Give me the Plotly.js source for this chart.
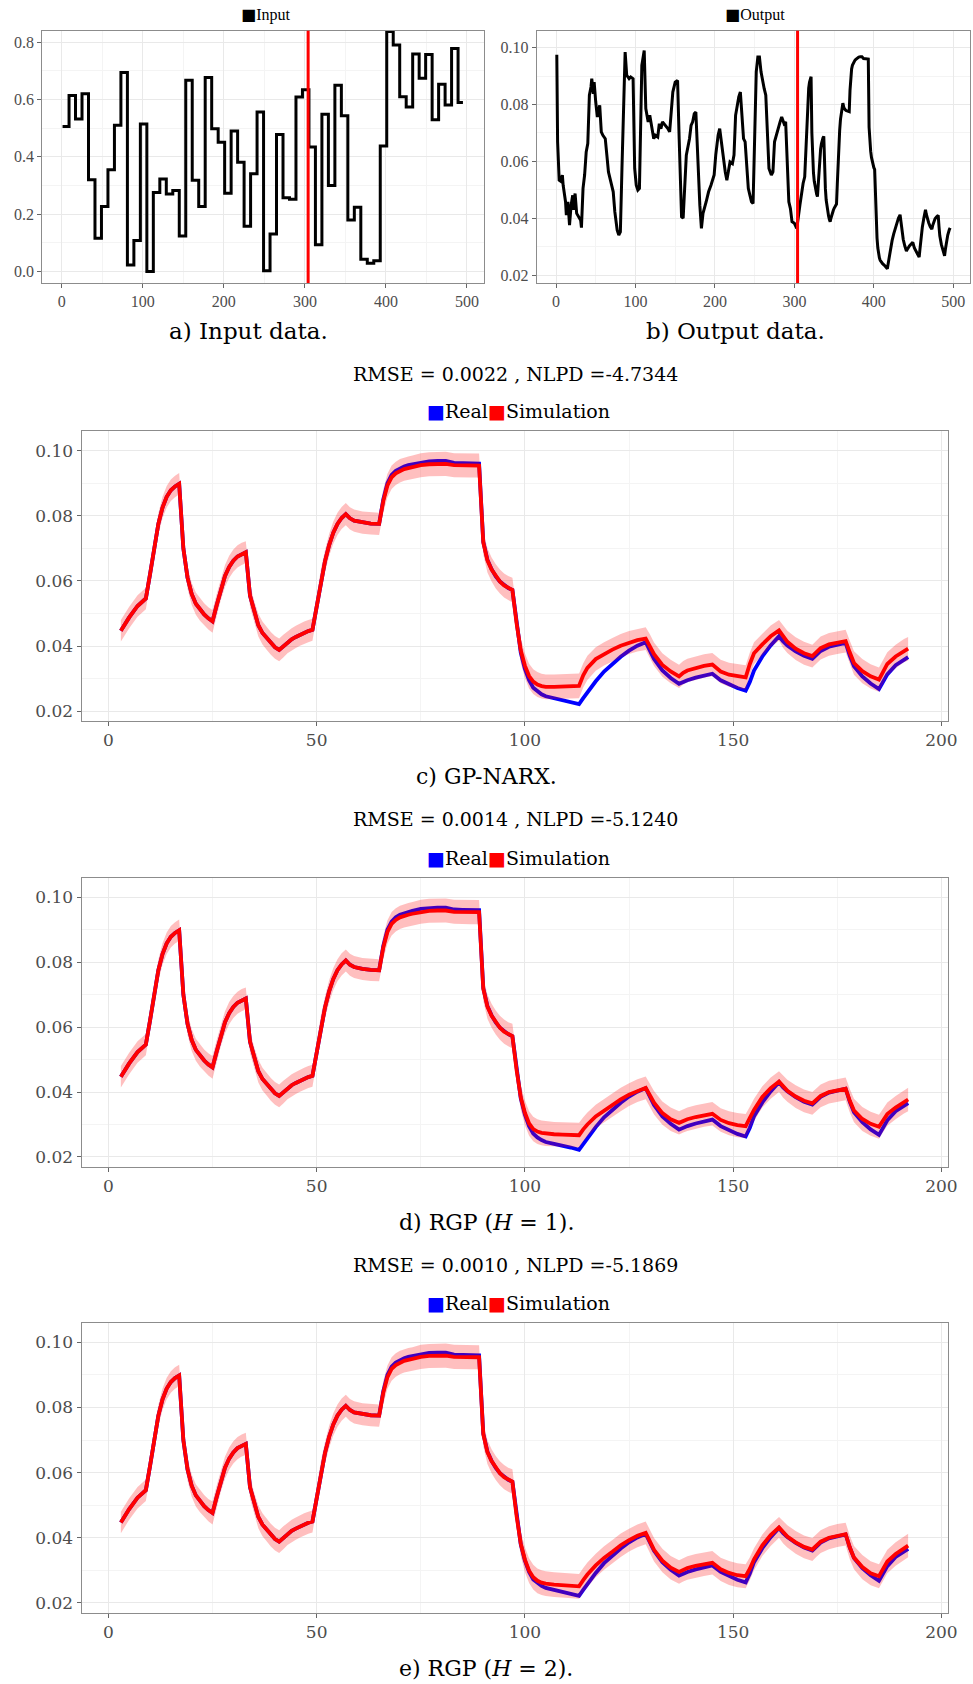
<!DOCTYPE html>
<html>
<head>
<meta charset="utf-8">
<script src="https://cdn.plot.ly/plotly-3.0.1.min.js"></script>
<style>
  html, body { margin: 0; padding: 0; background: #ffffff; }
  #chart { width: 973px; height: 1684px; }
</style>
</head>
<body>
<div id="chart"></div>
<script>
// ---------------- data ----------------
// sample index where the training data ends and the test data begins
const splitIndex = 304;

// piecewise-constant excitation: one level per 8-sample step
const inputStepLength = 8;
const inputLastSample = 495;
const inputLevels = [
  0.506, 0.614, 0.532, 0.620, 0.320, 0.116, 0.227, 0.355, 0.510, 0.694,
  0.023, 0.108, 0.515, 0.000, 0.276, 0.323, 0.270, 0.283, 0.124, 0.667,
  0.318, 0.227, 0.677, 0.498, 0.451, 0.273, 0.490, 0.381, 0.158, 0.341,
  0.556, 0.003, 0.131, 0.478, 0.257, 0.252, 0.609, 0.634, 0.434, 0.093,
  0.549, 0.300, 0.650, 0.543, 0.180, 0.224, 0.043, 0.029, 0.038, 0.438,
  0.837, 0.790, 0.610, 0.574, 0.759, 0.674, 0.757, 0.529, 0.653, 0.581,
  0.778, 0.590
];

// measured output on the training part
const trainT = [
  1, 2, 4, 6, 8, 9, 12, 13, 15, 17,
  19, 21, 22, 24, 26, 29, 31, 32, 34, 36,
  38, 40, 42, 44, 45, 47, 48, 50, 52, 55,
  57, 59, 62, 64, 66, 69, 72, 74, 77, 79,
  81, 83, 85, 87, 89, 92, 94, 97, 99, 101,
  103, 105, 108, 111, 113, 116, 118, 121, 123, 125,
  128, 130, 132, 134, 138, 141, 143, 145, 147, 150,
  153, 155, 157, 158, 160, 162, 164, 168, 170, 172,
  174, 176, 177, 179, 181, 183, 185, 189, 192, 195,
  197, 199, 201, 204, 206, 208, 211, 213, 215, 217,
  219, 222, 224, 226, 228, 230, 232, 234, 236, 238,
  240, 242, 244, 246, 248, 250, 252, 254, 256, 258,
  260, 262, 264, 266, 268, 271, 273, 275, 277, 280,
  282, 284, 287, 289, 291, 293, 295, 297, 300, 303
];
const trainY = [
  0.0975, 0.0669, 0.0534, 0.0530, 0.0552, 0.0516, 0.0458, 0.0411, 0.0458, 0.0376,
  0.0446, 0.0481, 0.0429, 0.0487, 0.0417, 0.0405, 0.0393, 0.0367, 0.0505, 0.0552,
  0.0633, 0.0663, 0.0833, 0.0862, 0.0891, 0.0838, 0.0879, 0.0809, 0.0756, 0.0797,
  0.0704, 0.0692, 0.0680, 0.0622, 0.0563, 0.0528, 0.0493, 0.0423, 0.0358, 0.0341,
  0.0352, 0.0575, 0.0833, 0.0985, 0.0903, 0.0891, 0.0897, 0.0891, 0.0575, 0.0516,
  0.0499, 0.0505, 0.0938, 0.0990, 0.0786, 0.0739, 0.0762, 0.0715, 0.0680, 0.0692,
  0.0686, 0.0733, 0.0715, 0.0739, 0.0727, 0.0715, 0.0704, 0.0774, 0.0844, 0.0879,
  0.0885, 0.0680, 0.0505, 0.0405, 0.0400, 0.0505, 0.0622, 0.0680, 0.0727, 0.0739,
  0.0768, 0.0774, 0.0704, 0.0563, 0.0446, 0.0364, 0.0417, 0.0458, 0.0493, 0.0516,
  0.0534, 0.0552, 0.0622, 0.0692, 0.0715, 0.0669, 0.0598, 0.0563, 0.0534, 0.0563,
  0.0598, 0.0592, 0.0622, 0.0762, 0.0797, 0.0827, 0.0844, 0.0762, 0.0680, 0.0669,
  0.0575, 0.0505, 0.0481, 0.0458, 0.0452, 0.0715, 0.0915, 0.0967, 0.0967, 0.0915,
  0.0879, 0.0856, 0.0833, 0.0715, 0.0575, 0.0552, 0.0563, 0.0669, 0.0692, 0.0727,
  0.0739, 0.0756, 0.0733, 0.0739, 0.0598, 0.0458, 0.0434, 0.0388, 0.0382, 0.0364
];

// test part: sample index inside the test window
const simT = [
  3, 5, 7, 9,
  10, 11, 12, 13, 14, 15, 16, 17,
  18, 19, 20, 21, 22, 23, 24, 25,
  26, 27, 28, 29, 30, 31, 32, 33,
  34, 35, 36, 37, 38, 39, 40, 41,
  42, 43, 44, 45, 46, 47, 48, 49,
  50, 51, 52, 53, 54, 55, 56, 57,
  58, 59, 61, 63, 65,
  66, 67, 68, 69, 70, 71, 72, 73,
  75, 77, 79, 81, 83, 85, 87, 89,
  90, 91, 92, 93, 94, 95, 96, 97,
  98, 99, 100, 101, 102, 103, 104, 105,
  107, 109, 111, 113,
  114, 115,
  117, 119, 121, 123, 125, 127, 129,
  130, 131, 133, 135, 137,
  138, 139, 141, 143, 145,
  147, 149, 151, 153,
  154, 155, 157, 159, 161,
  162, 163, 165, 167, 169,
  170, 171, 173, 175, 177,
  178, 179, 181, 183, 185,
  186, 187, 189, 191, 192
];

// measured ("Real") output on the test window
const realY = [
  0.0447, 0.0488, 0.0523, 0.0546,
  0.0620, 0.0700, 0.0775, 0.0825, 0.0858, 0.0878, 0.0890, 0.0898,
  0.0700, 0.0610, 0.0560, 0.0530, 0.0512, 0.0497, 0.0485, 0.0476,
  0.0525, 0.0575, 0.0615, 0.0643, 0.0662, 0.0675, 0.0683, 0.0688,
  0.0555, 0.0505, 0.0464, 0.0440, 0.0424, 0.0408, 0.0396, 0.0388,
  0.0400, 0.0412, 0.0421, 0.0428, 0.0435, 0.0441, 0.0446, 0.0450,
  0.0520, 0.0600, 0.0660, 0.0710, 0.0748, 0.0775, 0.0793, 0.0805,
  0.0792, 0.0785, 0.0779, 0.0776, 0.0775,
  0.0850, 0.0900, 0.0925, 0.0938, 0.0946, 0.0951, 0.0955, 0.0958,
  0.0964, 0.0967, 0.0968, 0.0968, 0.0962, 0.0961, 0.0961, 0.0960,
  0.0720, 0.0665, 0.0636, 0.0614, 0.0598, 0.0586, 0.0578, 0.0572,
  0.0465, 0.0380, 0.0330, 0.0295, 0.0272, 0.0260, 0.0252, 0.0246,
  0.0240, 0.0235, 0.0229, 0.0222,
  0.0240, 0.0258,
  0.0292, 0.0322, 0.0345, 0.0367, 0.0386, 0.0401, 0.0412,
  0.0385, 0.0360, 0.0325, 0.0302, 0.0284,
  0.0290, 0.0295, 0.0303, 0.0309, 0.0315,
  0.0295, 0.0283, 0.0271, 0.0263,
  0.0290, 0.0325, 0.0368, 0.0402, 0.0430,
  0.0414, 0.0402, 0.0384, 0.0370, 0.0361,
  0.0374, 0.0385, 0.0398, 0.0405, 0.0410,
  0.0370, 0.0338, 0.0307, 0.0285, 0.0268,
  0.0290, 0.0313, 0.0341, 0.0360, 0.0366
];

// simulated mean of each model
const simGpNarx = [
  0.0447, 0.0488, 0.0523, 0.0546,
  0.0620, 0.0700, 0.0775, 0.0825, 0.0858, 0.0878, 0.0890, 0.0898,
  0.0700, 0.0610, 0.0560, 0.0530, 0.0512, 0.0497, 0.0485, 0.0476,
  0.0525, 0.0575, 0.0615, 0.0643, 0.0662, 0.0675, 0.0683, 0.0688,
  0.0555, 0.0505, 0.0464, 0.0440, 0.0424, 0.0408, 0.0396, 0.0388,
  0.0400, 0.0412, 0.0421, 0.0428, 0.0435, 0.0441, 0.0446, 0.0450,
  0.0520, 0.0600, 0.0660, 0.0710, 0.0748, 0.0775, 0.0793, 0.0805,
  0.0792, 0.0785, 0.0779, 0.0776, 0.0775,
  0.0845, 0.0893, 0.0918, 0.0930, 0.0938, 0.0943, 0.0946, 0.0949,
  0.0955, 0.0958, 0.0959, 0.0959, 0.0955, 0.0954, 0.0954, 0.0954,
  0.0718, 0.0663, 0.0635, 0.0614, 0.0598, 0.0586, 0.0578, 0.0572,
  0.0470, 0.0387, 0.0340, 0.0308, 0.0291, 0.0282, 0.0277, 0.0275,
  0.0275, 0.0276, 0.0277, 0.0278,
  0.0310, 0.0333,
  0.0360, 0.0376, 0.0389, 0.0401, 0.0411, 0.0418, 0.0423,
  0.0400, 0.0375, 0.0342, 0.0322, 0.0307,
  0.0318, 0.0325, 0.0333, 0.0339, 0.0343,
  0.0322, 0.0312, 0.0307, 0.0304,
  0.0345, 0.0378, 0.0405, 0.0430, 0.0448,
  0.0428, 0.0413, 0.0392, 0.0378, 0.0369,
  0.0382, 0.0394, 0.0405, 0.0411, 0.0415,
  0.0380, 0.0348, 0.0323, 0.0307, 0.0297,
  0.0322, 0.0345, 0.0368, 0.0386, 0.0392
];
const simRgpH1 = [
  0.0447, 0.0488, 0.0523, 0.0546,
  0.0620, 0.0700, 0.0775, 0.0825, 0.0858, 0.0878, 0.0890, 0.0898,
  0.0700, 0.0610, 0.0560, 0.0530, 0.0512, 0.0497, 0.0485, 0.0476,
  0.0525, 0.0575, 0.0615, 0.0643, 0.0662, 0.0675, 0.0683, 0.0688,
  0.0555, 0.0505, 0.0464, 0.0440, 0.0424, 0.0408, 0.0396, 0.0388,
  0.0400, 0.0412, 0.0421, 0.0428, 0.0435, 0.0441, 0.0446, 0.0450,
  0.0520, 0.0600, 0.0660, 0.0710, 0.0748, 0.0775, 0.0793, 0.0805,
  0.0792, 0.0785, 0.0779, 0.0776, 0.0775,
  0.0845, 0.0893, 0.0918, 0.0930, 0.0938, 0.0943, 0.0946, 0.0949,
  0.0955, 0.0958, 0.0959, 0.0959, 0.0955, 0.0954, 0.0954, 0.0954,
  0.0718, 0.0663, 0.0635, 0.0614, 0.0598, 0.0586, 0.0578, 0.0572,
  0.0468, 0.0384, 0.0336, 0.0303, 0.0286, 0.0278, 0.0274, 0.0272,
  0.0270, 0.0269, 0.0268, 0.0267,
  0.0285, 0.0300,
  0.0325, 0.0343, 0.0360, 0.0377, 0.0392, 0.0404, 0.0413,
  0.0390, 0.0367, 0.0335, 0.0316, 0.0305,
  0.0311, 0.0316, 0.0323, 0.0329, 0.0333,
  0.0314, 0.0304, 0.0298, 0.0295,
  0.0320, 0.0345, 0.0385, 0.0412, 0.0432,
  0.0416, 0.0404, 0.0386, 0.0373, 0.0365,
  0.0377, 0.0388, 0.0400, 0.0406, 0.0410,
  0.0373, 0.0343, 0.0317, 0.0302, 0.0293,
  0.0313, 0.0332, 0.0352, 0.0370, 0.0377
];
const simRgpH2 = [
  0.0447, 0.0488, 0.0523, 0.0546,
  0.0620, 0.0700, 0.0775, 0.0825, 0.0858, 0.0878, 0.0890, 0.0898,
  0.0700, 0.0610, 0.0560, 0.0530, 0.0512, 0.0497, 0.0485, 0.0476,
  0.0525, 0.0575, 0.0615, 0.0643, 0.0662, 0.0675, 0.0683, 0.0688,
  0.0555, 0.0505, 0.0464, 0.0440, 0.0424, 0.0408, 0.0396, 0.0388,
  0.0400, 0.0412, 0.0421, 0.0428, 0.0435, 0.0441, 0.0446, 0.0450,
  0.0520, 0.0600, 0.0660, 0.0710, 0.0748, 0.0775, 0.0793, 0.0805,
  0.0792, 0.0785, 0.0779, 0.0776, 0.0775,
  0.0845, 0.0893, 0.0918, 0.0930, 0.0938, 0.0943, 0.0946, 0.0949,
  0.0955, 0.0958, 0.0959, 0.0959, 0.0955, 0.0954, 0.0954, 0.0954,
  0.0718, 0.0663, 0.0635, 0.0614, 0.0598, 0.0586, 0.0578, 0.0572,
  0.0467, 0.0382, 0.0333, 0.0299, 0.0279, 0.0268, 0.0262, 0.0259,
  0.0256, 0.0254, 0.0252, 0.0251,
  0.0270, 0.0287,
  0.0315, 0.0338, 0.0357, 0.0377, 0.0393, 0.0406, 0.0415,
  0.0388, 0.0363, 0.0330, 0.0308, 0.0295,
  0.0302, 0.0307, 0.0314, 0.0319, 0.0323,
  0.0303, 0.0292, 0.0285, 0.0282,
  0.0305, 0.0334, 0.0377, 0.0408, 0.0432,
  0.0416, 0.0404, 0.0386, 0.0372, 0.0364,
  0.0377, 0.0388, 0.0400, 0.0407, 0.0411,
  0.0370, 0.0339, 0.0310, 0.0291, 0.0282,
  0.0305, 0.0327, 0.0350, 0.0368, 0.0376
];

// half-width (two standard deviations) of the predictive band
const predTwoSigma = [
  0.0033, 0.0033, 0.0033, 0.0033,
  0.0033, 0.0033, 0.0033, 0.0033, 0.0033, 0.0033, 0.0033, 0.0033,
  0.0034, 0.0034, 0.0034, 0.0034, 0.0034, 0.0034, 0.0034, 0.0035,
  0.0035, 0.0034, 0.0034, 0.0034, 0.0034, 0.0034, 0.0034, 0.0034,
  0.0034, 0.0034, 0.0035, 0.0035, 0.0035, 0.0035, 0.0035, 0.0035,
  0.0035, 0.0034, 0.0034, 0.0034, 0.0034, 0.0034, 0.0034, 0.0034,
  0.0034, 0.0034, 0.0034, 0.0034, 0.0034, 0.0034, 0.0034, 0.0034,
  0.0034, 0.0034, 0.0034, 0.0034, 0.0034,
  0.0036, 0.0036, 0.0036, 0.0036, 0.0036, 0.0036, 0.0036, 0.0036,
  0.0037, 0.0037, 0.0037, 0.0037, 0.0037, 0.0037, 0.0037, 0.0037,
  0.0037, 0.0037, 0.0037, 0.0037, 0.0037, 0.0037, 0.0037, 0.0038,
  0.0038, 0.0038, 0.0038, 0.0038, 0.0038, 0.0038, 0.0038, 0.0038,
  0.0038, 0.0038, 0.0038, 0.0038,
  0.0037, 0.0037,
  0.0036, 0.0036, 0.0036, 0.0036, 0.0035, 0.0035, 0.0035,
  0.0036, 0.0036, 0.0036, 0.0036, 0.0036,
  0.0036, 0.0036, 0.0036, 0.0036, 0.0036,
  0.0036, 0.0037, 0.0037, 0.0037,
  0.0035, 0.0034, 0.0033, 0.0033, 0.0032,
  0.0034, 0.0034, 0.0035, 0.0035, 0.0035,
  0.0035, 0.0035, 0.0035, 0.0035, 0.0035,
  0.0036, 0.0036, 0.0037, 0.0037, 0.0037,
  0.0036, 0.0036, 0.0036, 0.0036, 0.0036
];

const inputLabel = 'Input';
const outputLabel = 'Output';
const seriesLabels = ['Real', 'Simulation'];
const modelScores = [
  'RMSE = 0.0022 , NLPD =-4.7344',
  'RMSE = 0.0014 , NLPD =-5.1240',
  'RMSE = 0.0010 , NLPD =-5.1869'
];
const captions = [
  'a) Input data.',
  'b) Output data.',
  'c) GP-NARX.',
  'd) RGP (<i>H</i> = 1).',
  'e) RGP (<i>H</i> = 2).'
];

// ---------------- page geometry ----------------
const W = 973, H = 1684;
const fx = px => px / W;
const fy = py => 1 - py / H;

const COL_REAL = '#0000ff';
const COL_SIM = '#ff0000';
const COL_BAND = 'rgba(255,0,0,0.25)';
const SERIF_SMALL = 'Liberation Serif, Times New Roman, serif';
const SERIF_WIDE = 'DejaVu Serif, serif';

function xAxis(anchor, left, right, range, dtick, minorDtick, font) {
  return {
    anchor: anchor, domain: [fx(left), fx(right)], range: range,
    tick0: 0, dtick: dtick,
    minor: { tick0: 0, dtick: minorDtick, showgrid: true, gridcolor: '#f4f4f4', gridwidth: 1, ticks: '' },
    showgrid: true, gridcolor: '#e9e9e9', gridwidth: 1, zeroline: false,
    showline: true, mirror: true, linecolor: '#8c8c8c', linewidth: 1,
    ticks: 'outside', ticklen: 4, tickwidth: 1, tickcolor: '#666666',
    tickfont: font, fixedrange: true
  };
}
function yAxis(anchor, top, bottom, range, dtick, minorDtick, fmt, font) {
  return {
    anchor: anchor, domain: [fy(bottom), fy(top)], range: range,
    tick0: 0, dtick: dtick, tickformat: fmt,
    minor: { tick0: 0, dtick: minorDtick, showgrid: true, gridcolor: '#f4f4f4', gridwidth: 1, ticks: '' },
    showgrid: true, gridcolor: '#e9e9e9', gridwidth: 1, zeroline: false,
    showline: true, mirror: true, linecolor: '#8c8c8c', linewidth: 1,
    ticks: 'outside', ticklen: 4, tickwidth: 1, tickcolor: '#666666',
    tickfont: font, fixedrange: true
  };
}

const smallTick = { family: SERIF_SMALL, size: 16, color: '#4d4d4d' };
const wideTick = { family: SERIF_WIDE, size: 17, color: '#4d4d4d' };

// ---------------- traces ----------------
const traces = [];

// a) input: step signal
const inputX = inputLevels.map((_, k) => 1 + k * inputStepLength).concat([inputLastSample]);
const inputY = inputLevels.concat([inputLevels[inputLevels.length - 1]]);
traces.push({
  x: inputX, y: inputY, xaxis: 'x', yaxis: 'y', type: 'scatter', mode: 'lines',
  line: { color: '#000000', width: 3, shape: 'hv' }, showlegend: false, hoverinfo: 'skip'
});

// b) output: training part followed by the test window
const outputX = trainT.concat(simT.map(t => t + splitIndex));
const outputY = trainY.concat(realY);
traces.push({
  x: outputX, y: outputY, xaxis: 'x2', yaxis: 'y2', type: 'scatter', mode: 'lines',
  line: { color: '#000000', width: 3 }, showlegend: false, hoverinfo: 'skip'
});

// c) d) e): real output, predictive band, simulated mean
const models = [simGpNarx, simRgpH1, simRgpH2];
models.forEach((sim, i) => {
  const xa = 'x' + (i + 3), ya = 'y' + (i + 3);
  traces.push({
    x: simT, y: realY, xaxis: xa, yaxis: ya, type: 'scatter', mode: 'lines',
    line: { color: COL_REAL, width: 3.8 }, showlegend: false, hoverinfo: 'skip'
  });
  const upper = sim.map((v, k) => v + predTwoSigma[k]);
  const lower = sim.map((v, k) => v - predTwoSigma[k]);
  traces.push({
    x: simT.concat(simT.slice().reverse()),
    y: upper.concat(lower.slice().reverse()),
    xaxis: xa, yaxis: ya, type: 'scatter', mode: 'lines', fill: 'toself',
    fillcolor: COL_BAND, line: { width: 0, color: 'rgba(0,0,0,0)' },
    showlegend: false, hoverinfo: 'skip'
  });
  traces.push({
    x: simT, y: sim, xaxis: xa, yaxis: ya, type: 'scatter', mode: 'lines',
    line: { color: COL_SIM, width: 3.8 }, showlegend: false, hoverinfo: 'skip'
  });
});

// ---------------- layout ----------------
const panelTopsC = [431, 877.7, 1322.7];
const panelBottomsC = [721, 1166.7, 1612.7];

const layout = {
  width: W, height: H,
  margin: { l: 0, r: 0, t: 0, b: 0 },
  paper_bgcolor: '#ffffff', plot_bgcolor: '#ffffff',
  showlegend: false, hovermode: false,
  xaxis: xAxis('y', 42.3, 484, [-24, 521], 100, 50, smallTick),
  yaxis: yAxis('x', 30.7, 283, [-0.04, 0.84], 0.2, 0.1, '.1f', smallTick),
  xaxis2: xAxis('y2', 536.7, 970, [-24.3, 521], 100, 50, smallTick),
  yaxis2: yAxis('x2', 30.7, 283, [0.0172, 0.106], 0.02, 0.01, '.2f', smallTick),
  shapes: [],
  annotations: []
};
for (let i = 0; i < 3; i++) {
  layout['xaxis' + (i + 3)] = xAxis('y' + (i + 3), 81.5, 947.5, [-6.45, 201.45], 50, 25, wideTick);
  layout['yaxis' + (i + 3)] = yAxis('x' + (i + 3), panelTopsC[i], panelBottomsC[i], [0.017, 0.106], 0.02, 0.01, '.2f', wideTick);
}

// train / test split marker on the two data panels
['x', 'x2'].forEach((xr, i) => {
  layout.shapes.push({
    type: 'line', xref: xr, yref: (i === 0 ? 'y' : 'y2') + ' domain',
    x0: splitIndex, x1: splitIndex, y0: 0, y1: 1,
    line: { color: '#ff0000', width: 3 }, layer: 'above'
  });
});

function note(text, xpx, ypx, font) {
  layout.annotations.push({
    text: text, xref: 'paper', yref: 'paper', x: fx(xpx), y: fy(ypx),
    xanchor: 'center', yanchor: 'middle', showarrow: false, font: font
  });
}
const sq = c => '<span style="color:' + c + ';font-family:DejaVu Sans">\u25A0</span>';

// legends of the data panels
note(sq('#000000') + inputLabel, 265, 14, { family: SERIF_SMALL, size: 16, color: '#000' });
note(sq('#000000') + outputLabel, 755, 14, { family: SERIF_SMALL, size: 16, color: '#000' });
// captions of the data panels
note(captions[0], 248, 331, { family: SERIF_WIDE, size: 23, color: '#000' });
note(captions[1], 735, 331, { family: SERIF_WIDE, size: 23, color: '#000' });

const scoreY = [373.5, 819.5, 1264.5];
const legendY = [411, 857.5, 1303];
const captionY = [776, 1222, 1668.5];
for (let i = 0; i < 3; i++) {
  note(modelScores[i], 515, scoreY[i], { family: SERIF_WIDE, size: 19, color: '#000' });
  note(sq(COL_REAL) + seriesLabels[0] + sq(COL_SIM) + seriesLabels[1], 518, legendY[i],
       { family: SERIF_WIDE, size: 19, color: '#000' });
  note(captions[i + 2], 486, captionY[i], { family: SERIF_WIDE, size: 22, color: '#000' });
}

Plotly.newPlot('chart', traces, layout, { staticPlot: true, displayModeBar: false });
</script>
</body>
</html>
